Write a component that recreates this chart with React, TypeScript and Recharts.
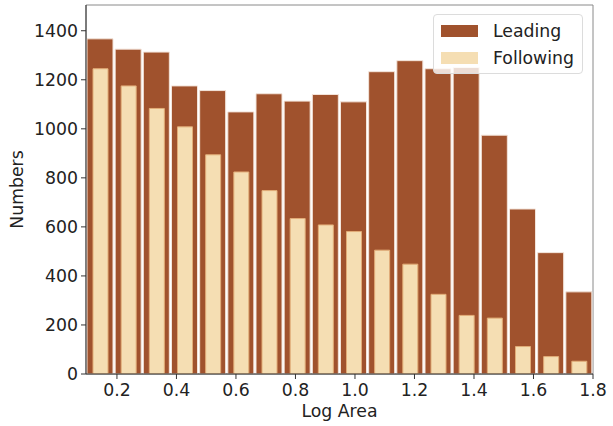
import React from 'react';
import { BarChart, Bar, XAxis, YAxis, Legend, ReferenceArea } from 'recharts';

const binCenters = [0.143, 0.238, 0.333, 0.427, 0.522, 0.617, 0.711, 0.806, 0.901, 0.995, 1.09, 1.185, 1.28, 1.374, 1.469, 1.564, 1.658, 1.753];
const leading = [1367, 1325, 1313, 1175, 1156, 1069, 1143, 1113, 1140, 1110, 1233, 1278, 1245, 1250, 974, 673, 495, 335];
const following = [1245, 1175, 1083, 1008, 894, 824, 748, 634, 608, 581, 505, 448, 325, 239, 228, 112, 71, 52];
const xTicks = [0.2, 0.4, 0.6, 0.8, 1.0, 1.2, 1.4, 1.6, 1.8];
const yTicks = [0, 200, 400, 600, 800, 1000, 1200, 1400];
const xDomain = [0.096, 1.8];
const yDomain = [0, 1505];

const LEAD_COLOR = '#A0522D';
const FOLLOW_COLOR = '#F5DEB3';
const FONT = 'DejaVu Sans, sans-serif';
const FS = 17.3;

const data = binCenters.map((c, i) => ({
  bin: String(i),
  center: c,
  Leading: leading[i],
  Following: following[i],
}));

const LegendBox = () => (
  <div
    style={{
      width: 150,
      height: 60,
      boxSizing: 'border-box',
      border: '1px solid #dcdcdc',
      borderRadius: 4,
      background: 'rgba(255,255,255,0.8)',
      fontFamily: FONT,
      fontSize: FS,
      color: '#222',
      position: 'relative',
    }}
  >
    {[
      { name: 'Leading', color: LEAD_COLOR, top: 8 },
      { name: 'Following', color: FOLLOW_COLOR, top: 35 },
    ].map((it) => (
      <div key={it.name} style={{ position: 'absolute', left: 7, top: it.top - 1, height: 18, display: 'flex', alignItems: 'center' }}>
        <span style={{ display: 'inline-block', width: 37, height: 12, background: it.color, marginRight: 15 }} />
        <span style={{ lineHeight: '18px' }}>{it.name}</span>
      </div>
    ))}
  </div>
);

export default function App() {
  return (
    <div style={{ position: 'absolute', left: 0, top: 0, width: 613, height: 426, background: '#fff' }}>
      <BarChart
        width={613}
        height={426}
        data={data}
        margin={{ top: 5, right: 20, left: 0, bottom: 0 }}
        barCategoryGap={0}
        barGap={0}
      >
        <XAxis
          xAxisId="num"
          dataKey="center"
          type="number"
          domain={xDomain}
          allowDataOverflow
          ticks={xTicks}
          tickFormatter={(v: number) => v.toFixed(1)}
          height={52}
          tickSize={5}
          tickMargin={5}
          axisLine={{ stroke: '#333' }}
          tickLine={{ stroke: '#333' }}
          tick={{ fill: '#222', fontSize: FS, fontFamily: FONT }}
          label={{ value: 'Log Area', position: 'insideBottom', offset: 9, fill: '#222', fontSize: FS, fontFamily: FONT }}
        />
        <XAxis xAxisId="a" dataKey="bin" hide height={0} />
        <XAxis xAxisId="b" dataKey="bin" hide height={0} />
        <YAxis
          type="number"
          domain={yDomain}
          allowDataOverflow
          ticks={yTicks}
          width={86}
          tickSize={5}
          tickMargin={3}
          axisLine={{ stroke: '#333' }}
          tickLine={{ stroke: '#333' }}
          tick={{ fill: '#222', fontSize: FS, fontFamily: FONT }}
          label={{ value: 'Numbers', angle: -90, position: 'insideLeft', offset: 17, fill: '#222', fontSize: FS, fontFamily: FONT, style: { textAnchor: 'middle' } }}
        />
        <Bar xAxisId="a" dataKey="Leading" fill={LEAD_COLOR} stroke="#f3e4da" strokeWidth={1} barSize={26} isAnimationActive={false} />
        <Bar xAxisId="b" dataKey="Following" fill={FOLLOW_COLOR} stroke="#e2ad78" strokeWidth={1} barSize={15} isAnimationActive={false} />
        <ReferenceArea
          xAxisId="num"
          x1={xDomain[0]}
          x2={xDomain[1]}
          y1={yDomain[0]}
          y2={yDomain[1]}
          fill="none"
          stroke="#8a8a8a"
          strokeWidth={1}
          ifOverflow="visible"
        />
        <Legend
          layout="horizontal"
          verticalAlign="middle"
          align="center"
          content={() => <LegendBox />}
          wrapperStyle={{ position: 'absolute', left: 433, top: 14, width: 150, height: 60 }}
        />
      </BarChart>
    </div>
  );
}
